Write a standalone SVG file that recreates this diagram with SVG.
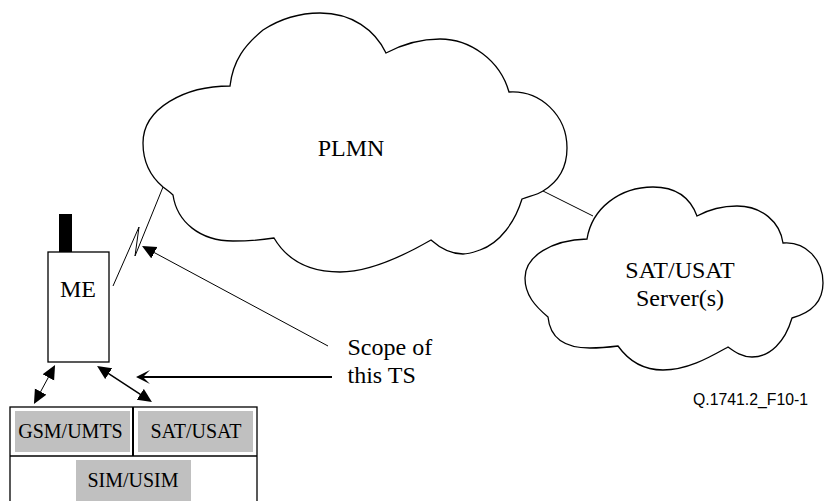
<svg xmlns="http://www.w3.org/2000/svg" width="824" height="501" viewBox="0 0 824 501">
<style>
.c{fill:#fff;stroke:#000;stroke-width:1.3}
.l{fill:none;stroke:#000;stroke-width:1}
.t{font-family:"Liberation Serif",serif;font-size:24px;fill:#000;text-anchor:middle}
.s{font-size:20px}
.g{fill:#c0c0c0}
.b{fill:none;stroke:#000;stroke-width:1.3}
.d{fill:none;stroke:#000;stroke-width:1.5}
</style>
<defs>
<marker id="a" markerUnits="userSpaceOnUse" markerWidth="16" markerHeight="14" refX="7" refY="6.500" orient="auto-start-reverse"><path d="M0 0L14 6.500L0 13z" fill="#000"/></marker>
<marker id="o" markerUnits="userSpaceOnUse" markerWidth="16" markerHeight="16" refX="8" refY="7" orient="auto"><path d="M0 0L14 7L0 14L7 7z" fill="#000"/></marker>
</defs>
<rect width="824" height="501" fill="#fff"/>
<g id="plmn"><path class="c" d="M230 86C233 60 245 45 263 30C280 19 300 13 320 13C352 13 375 30 386 53C403 44 420 39 440 39C470 39 500 60 509 92C540 90 567 115 567 148C567 167 558 182 543 191C537 195 530 196 522 199C515 222 500 243 480 250C474 252 469 254 463 254C450 254 440 248 431 240C405 255 370 272 340 272C308 272 287 260 274 238C262 240 248 241 233 241C200 241 177 222 173 195C170 192 167 190 163 187C150 176 143 162 143 143C143 108 185 86 230 86Z"/><text class="t" x="351" y="156">PLMN</text></g>
<g id="sat-server"><path class="c" d="M587 239C592 208 620 187 653 187C675 187 690 197 697 216C708 210 722 206 737 206C762 206 780 222 783 243C806 241 823 260 823 283C823 302 810 313 792 318C785 342 770 357 752 357C742 357 735 352 728 347C710 357 688 370 663 370C642 370 628 360 618 346C610 347 600 348 590 348C565 348 550 338 548 317C535 306 525 295 525 278C525 256 552 240 587 239Z"/><text class="t" x="680" y="278">SAT/USAT</text><text class="t" x="680" y="306">Server(s)</text></g>
<g id="me"><rect x="59" y="214" width="13" height="38" fill="#000"/><rect class="b" x="48" y="252" width="61" height="110"/><text class="t" x="78" y="297">ME</text></g>
<g id="sim"><rect class="b" x="10" y="407" width="247" height="95"/><path class="b" d="M10 456H257"/><path d="M133 407V456" stroke="#000" stroke-width="2"/>
<g id="gsm"><rect class="g" x="15" y="411" width="115" height="41"/><text class="t s" x="70.500" y="438">GSM/UMTS</text></g>
<g id="sat"><rect class="g" x="138" y="411" width="115" height="41"/><text class="t s" x="196" y="438">SAT/USAT</text></g>
<g id="usim"><rect class="g" x="76" y="460" width="115" height="41"/><text class="t s" x="133" y="487">SIM/USIM</text></g></g>
<g id="connectors">
<path class="l" d="M113 286L139 227L135 256L163 187"/>
<path class="l" d="M328 346L148.200 249.300" marker-end="url(#a)"/>
<path class="l" d="M543 191L593 216"/>
<path class="l" d="M37.300 397.800L51.700 371.200" marker-start="url(#a)" marker-end="url(#a)"/>
<path class="d" d="M102.900 369.800L146.100 398.200" marker-start="url(#a)" marker-end="url(#a)"/>
<path d="M332 377H142" stroke="#000" stroke-width="2.200" fill="none" marker-end="url(#o)"/>
</g>
<g id="labels"><text class="t" style="text-anchor:start" x="347.500" y="355">Scope of</text><text class="t" style="text-anchor:start" x="347.500" y="383">this TS</text>
<text x="693" y="405" font-family="Liberation Sans,sans-serif" font-size="15.800">Q.1741.2_F10-1</text></g>
</svg>
